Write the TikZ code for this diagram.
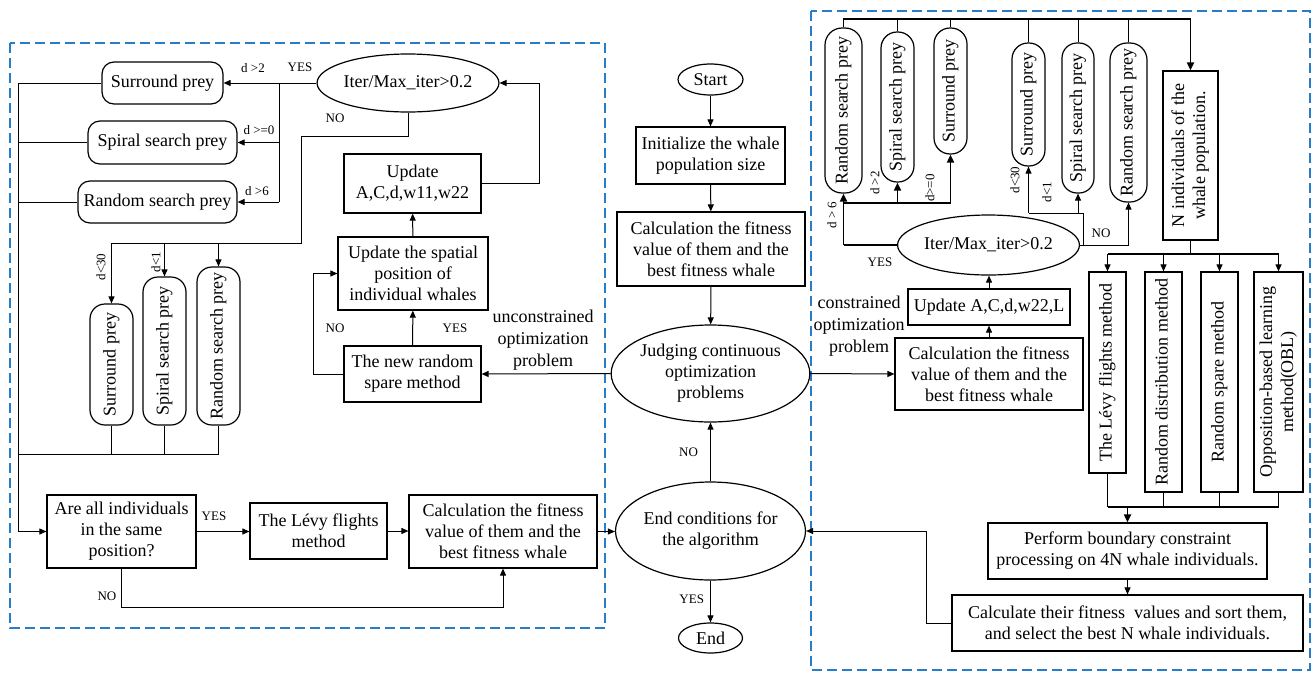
\documentclass[tikz,border=0pt]{standalone}
\usepackage{fontspec}
\setmainfont{Liberation Serif}
\usetikzlibrary{arrows.meta,shapes.geometric}
\definecolor{frameblue}{RGB}{40,125,200}
\newcommand{\vt}[1]{\rotatebox{90}{\begin{tabular}{@{}c@{}}#1\end{tabular}}}
\begin{document}
\begin{tikzpicture}[x=1pt,y=-1pt,
  every node/.style={font=\fontsize{18}{21}\selectfont, inner sep=0pt, align=center},
  box/.style={draw, line width=1.2pt, rectangle},
  rbox/.style={draw, line width=1.2pt, rounded corners=12pt},
  vbox/.style={draw, line width=1.2pt, rounded corners=15pt},
  ell/.style={draw, line width=1.2pt, ellipse, inner sep=0pt},
  lab/.style={font=\fontsize{13}{15}\selectfont},
  conn/.style={line width=1pt},
  arr/.style={line width=1pt, -{Triangle[length=7pt,width=6pt]}},
  tconn/.style={line width=1.8pt},
  tarr/.style={line width=1.8pt, -{Triangle[length=8pt,width=7pt]}},
  frame/.style={draw=frameblue, dash pattern=on 10pt off 5pt, line width=1.2pt}
]
\useasboundingbox (0,0) rectangle (1311,672);
% frames
\draw[frame] (10,43) rectangle (605,628);
\draw[frame] (811,11) rectangle (1310,670);

% ---------- middle column ----------
\node[ell, minimum width=65, minimum height=31] (start) at (710.5,79.5) {Start};
\node[box, minimum width=149, minimum height=57] (init) at (710.5,155.5) {Initialize the whale\\population size};
\node[box, minimum width=188, minimum height=74] (calcm) at (711,249) {Calculation the fitness\\value of them and the\\best fitness whale};
\node[ell, minimum width=189, minimum height=97] (judge) at (710.5,373.5) {Judging continuous\\optimization\\problems};
\node[ell, minimum width=190, minimum height=98] (endc) at (710.5,531) {End conditions for\\the algorithm};
\node[ell, minimum width=64, minimum height=30] (fin) at (710.5,638) {End};
\draw[arr] (start) -- (init);
\draw[arr] (init) -- (calcm);
\draw[arr] (calcm) -- (judge);
\draw[arr] (endc) -- (judge) node[lab, pos=0.5, left=12pt] {NO};
\draw[arr] (endc) -- (fin) node[lab, pos=0.45, left=6pt] {YES};

% ---------- left part ----------
\node[rbox, minimum width=121, minimum height=42] (sp1) at (162.5,83) {Surround prey};
\node[rbox, minimum width=149, minimum height=43] (ss1) at (162.5,142.5) {Spiral search prey};
\node[rbox, minimum width=159, minimum height=42] (rs1) at (157.5,202) {Random search prey};
\node[ell, minimum width=180, minimum height=58] (it1) at (408,83) {Iter/Max\_iter>0.2};

\coordinate (j1) at (279,83);
\coordinate (j1b) at (279,202);
\draw[conn] (it1.west) -- (j1) -- (j1b);
\draw[arr] (j1) -- (sp1.east);
\draw[arr] (ss1.east -| j1) -- (ss1.east);
\draw[arr] (j1b) -- (rs1.east);
\node[lab] at (300,67) {YES};
\node[lab] at (253,68) {d >2};
\node[lab] at (259,130) {d >=0};
\node[lab] at (257,191) {d >6};

\node[vbox, minimum width=43, minimum height=121] (vs1) at (111.5,364.5) {\vt{Surround prey}};
\node[vbox, minimum width=43, minimum height=148] (vs2) at (164.5,351) {\vt{Spiral search prey}};
\node[vbox, minimum width=43, minimum height=158] (vs3) at (218.5,346) {\vt{Random search prey}};

\coordinate (n1) at (408,136);
\coordinate (n2) at (301,136);
\coordinate (n3) at (301,243);
\coordinate (n4) at (111.5,243);
\draw[conn] (it1.south) -- (n1) -- (n2) -- (n3) -- (n4);
\draw[arr] (n4) -- (vs1.north);
\draw[arr] (vs2.north |- n3) -- (vs2.north);
\draw[arr] (vs3.north |- n3) -- (vs3.north);
\node[lab] at (335,118) {NO};
\node[lab, rotate=90] at (101,267) {d<30};
\node[lab, rotate=90] at (156,262) {d<1};

\coordinate (L1) at (18,83);
\coordinate (b1) at (18,454);
\draw[conn] (sp1.west) -- (L1);
\draw[conn] (ss1.west) -- (ss1.west -| L1);
\draw[conn] (rs1.west) -- (rs1.west -| L1);
\draw[conn] (vs1.south) -- (vs1.south |- b1);
\draw[conn] (vs2.south) -- (vs2.south |- b1);
\draw[conn] (vs3.south) -- (vs3.south |- b1) -- (b1);

\node[box, minimum width=149, minimum height=73] (are) at (121.5,531.5) {Are all individuals\\in the same\\position?};
\node[box, minimum width=137, minimum height=56] (levy) at (318.5,531) {The L\'evy flights\\method};
\node[box, minimum width=188, minimum height=73] (calcl) at (503,531.5) {Calculation the fitness\\value of them and the\\best fitness whale};
\draw[arr] (L1) |- (are.west);
\draw[arr] (are.east) -- (are.east -| levy.west);
\node[lab] at (214,516) {YES};
\draw[arr] (levy.east) -- (levy.east -| calcl.west);
\draw[arr] (calcl.east) -- (calcl.east -| endc.west);
\coordinate (no1) at (121.5,607);
\draw[arr] (are.south) -- (no1) -| (calcl.south);
\node[lab] at (107,596) {NO};

\node[box, minimum width=137, minimum height=59] (up1) at (412.5,183.5) {Update\\A,C,d,w11,w22};
\node[box, minimum width=150, minimum height=73] (spat) at (413,273.5) {Update the spatial\\position of\\individual whales};
\node[box, minimum width=137, minimum height=56] (nr) at (412.5,374) {The new random\\spare method};
\draw[arr] (nr) -- (spat);
\draw[arr] (spat) -- (up1);
\coordinate (u1) at (539,183.5);
\draw[arr] (up1.east) -- (u1) |- (it1.east);
\coordinate (u2) at (313,374);
\draw[arr] (nr.west) -- (u2) |- (spat.west);
\node[lab] at (335,328) {NO};
\node[lab] at (455,328) {YES};
\draw[arr] (judge.west) -- (nr.east);
\node[font=\fontsize{18}{22}\selectfont] at (543,340) {unconstrained\\optimization\\problem};

% ---------- right part ----------
\node[vbox, minimum width=37, minimum height=165, rounded corners=17pt] (r1) at (843.5,110.5) {\vt{Random search prey}};
\node[vbox, minimum width=33, minimum height=150, rounded corners=16pt] (r2) at (897.5,107) {\vt{Spiral search prey}};
\node[vbox, minimum width=33, minimum height=126, rounded corners=16pt] (r3) at (950.5,91) {\vt{Surround prey}};
\node[vbox, minimum width=33, minimum height=123, rounded corners=16pt] (r4) at (1028.5,104.5) {\vt{Surround prey}};
\node[vbox, minimum width=32, minimum height=150, rounded corners=15pt] (r5) at (1078,118) {\vt{Spiral search prey}};
\node[vbox, minimum width=37, minimum height=159, rounded corners=17pt] (r6) at (1128.5,122.5) {\vt{Random search prey}};
\node[box, minimum width=55, minimum height=169] (nind) at (1190.5,155.5) {\vt{N individuals of the\\whale population.}};

\coordinate (t1) at (843.5,19);
\coordinate (t2) at (1190.5,19);
\draw[tconn] (r1.north) -- (t1) -- (t2);
\draw[tarr] (t2) -- (nind.north);
\draw[conn] (r2.north) -- (r2.north |- t1);
\draw[conn] (r3.north) -- (r3.north |- t1);
\draw[conn] (r4.north) -- (r4.north |- t1);
\draw[conn] (r5.north) -- (r5.north |- t1);
\draw[conn] (r6.north) -- (r6.north |- t1);

\node[ell, minimum width=177, minimum height=60] (it2) at (988.5,245) {Iter/Max\_iter>0.2};
\coordinate (y1) at (843.5,245);
\coordinate (y2) at (843.5,203);
\coordinate (y3) at (950.5,203);
\draw[tconn] (it2.west) -- (y1);
\draw[tarr] (y1) -- (r1.south);
\draw[tconn] (y2) -- (y3);
\draw[tarr] (r2.south |- y2) -- (r2.south);
\draw[tarr] (y3) -- (r3.south);
\node[lab] at (880,262) {YES};
\node[lab, rotate=90] at (832,215) {d > 6};
\node[lab, rotate=90] at (875,183) {d >2};
\node[lab, rotate=90] at (930,188) {d>=0};

\coordinate (m1) at (1128.5,245);
\coordinate (m2) at (1083,245);
\coordinate (m3) at (1083,213);
\coordinate (m4) at (1028.5,213);
\draw[conn] (it2.east) -- (m1);
\draw[arr] (m1) -- (r6.south);
\draw[conn] (m2) -- (m3) -- (m4);
\draw[arr] (m4) -- (r4.south);
\draw[arr] (r5.south |- m3) -- (r5.south);
\node[lab] at (1101,233) {NO};
\node[lab, rotate=90] at (1015,180) {d<30};
\node[lab, rotate=90] at (1047,192) {d<1};

\node[box, minimum width=162, minimum height=36] (up2) at (989,307) {Update A,C,d,w22,L};
\node[box, minimum width=188, minimum height=72] (calcr) at (989,374) {Calculation the fitness\\value of them and the\\best fitness whale};
\draw[arr] (calcr) -- (up2);
\draw[arr] (up2) -- (up2 |- it2.south);
\draw[arr] (judge.east) -- (calcr.west);
\node[font=\fontsize{18}{22}\selectfont] at (859,326) {constrained\\optimization\\problem};

\node[box, minimum width=37, minimum height=201] (lv) at (1107.5,372.5) {\vt{The L\'evy flights method}};
\node[box, minimum width=37, minimum height=220] (rd) at (1163.5,382) {\vt{Random distribution method}};
\node[box, minimum width=37, minimum height=220] (rsp) at (1219.5,382) {\vt{Random spare method}};
\node[box, minimum width=49, minimum height=220] (obl) at (1278.5,382) {\vt{Opposition-based learning\\method(OBL)}};

\coordinate (k1) at (1190.5,254);
\coordinate (k2) at (1107.5,254);
\coordinate (k3) at (1278.5,254);
\draw[conn] (nind.south) -- (k1);
\draw[tconn] (k2) -- (k3);
\draw[arr] (k2) -- (lv.north);
\draw[arr] (rd.north |- k1) -- (rd.north);
\draw[arr] (rsp.north |- k1) -- (rsp.north);
\draw[arr] (k3) -- (obl.north);

\node[box, minimum width=279, minimum height=56] (perf) at (1127.5,551) {Perform boundary constraint\\processing on 4N whale individuals.};
\node[box, minimum width=351, minimum height=56] (calcs) at (1127.5,623) {Calculate their fitness\ \ values and sort them,\\and select the best N whale individuals.};

\coordinate (p1) at (1107.5,507);
\coordinate (p2) at (1278.5,507);
\draw[conn] (lv.south) -- (p1);
\draw[conn] (rd.south) -- (rd.south |- p1);
\draw[conn] (rsp.south) -- (rsp.south |- p1);
\draw[conn] (obl.south) -- (p2);
\draw[tconn] (p1) -- (p2);
\draw[tarr] (perf.north |- p1) -- (perf.north);
\draw[arr] (perf) -- (calcs);
\coordinate (q1) at (926,623);
\draw[arr] (calcs.west) -- (q1) |- (endc.east);
\end{tikzpicture}
\end{document}
